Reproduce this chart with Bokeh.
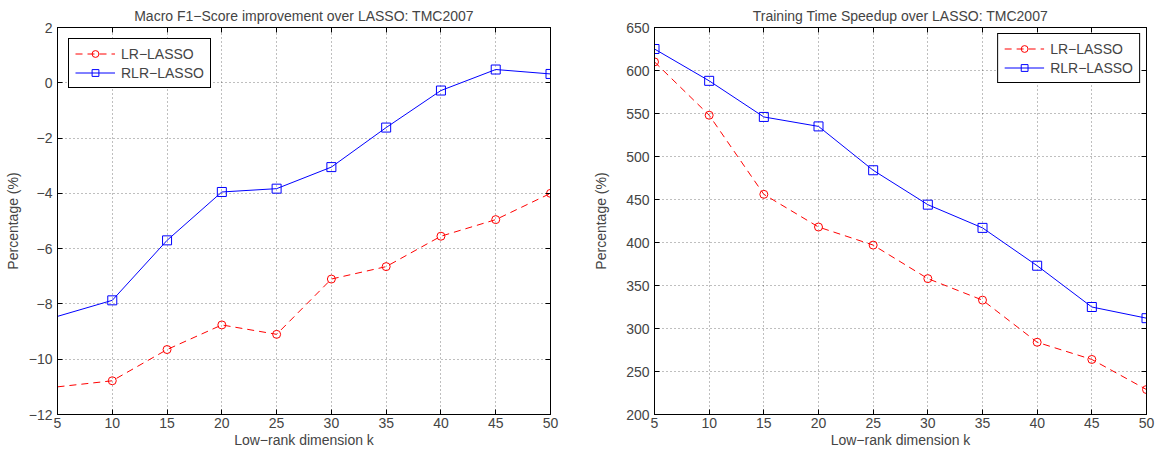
from bokeh.plotting import figure
from bokeh.layouts import row
from bokeh.models import Range1d, FixedTicker, LinearAxis, Legend, LegendItem
from bokeh.embed import file_html
from bokeh.resources import INLINE

k = [5, 10, 15, 20, 25, 30, 35, 40, 45, 50]
x_ticks = [5, 10, 15, 20, 25, 30, 35, 40, 45, 50]

f1_lr = [-11.0, -10.78, -9.65, -8.76, -9.1, -7.1, -6.65, -5.55, -4.95, -4.0]
f1_rlr = [-8.45, -7.87, -5.7, -3.95, -3.83, -3.05, -1.62, -0.28, 0.48, 0.32]
f1_ticks = [-12, -10, -8, -6, -4, -2, 0, 2]

sp_lr = [610, 548, 456, 418, 397, 358, 333, 284, 264, 229]
sp_rlr = [625, 588, 546, 535, 484, 444, 417, 373, 325, 312]
sp_ticks = [200, 250, 300, 350, 400, 450, 500, 550, 600, 650]

FONT = "Liberation Sans"
RED = "#ff0000"
BLUE = "#0000ff"


def make(title, lr, rlr, yr, yticks, width, bl, br, legend_loc, skip_first, lab_standoff):
    p = figure(width=width, height=450, output_backend="svg", toolbar_location=None,
               x_range=Range1d(5, 50), y_range=Range1d(*yr),
               min_border_left=bl, min_border_right=br, min_border_top=27, min_border_bottom=36)
    p.title.text = title
    p.title.text_font = FONT
    p.title.text_font_size = "14px"
    p.title.text_font_style = "normal"
    p.title.align = "center"
    p.title.standoff = 8
    p.outline_line_color = "black"
    p.outline_line_width = 1
    p.outline_line_alpha = 1

    for ax in (p.xaxis[0], p.yaxis[0]):
        ax.major_label_text_font = FONT
        ax.major_label_text_font_size = "14px"
        ax.axis_label_text_font = FONT
        ax.axis_label_text_font_size = "14px"
        ax.axis_label_text_font_style = "normal"
        ax.major_tick_in = 5
        ax.major_tick_out = 0
        ax.minor_tick_line_color = None
        ax.axis_line_color = "black"
        ax.major_tick_line_color = "black"
    p.xaxis[0].ticker = FixedTicker(ticks=x_ticks)
    p.yaxis[0].ticker = FixedTicker(ticks=yticks)
    p.xaxis[0].axis_label = "Low\u2212rank dimension k"
    p.yaxis[0].axis_label = "Percentage (%)"
    p.xaxis[0].major_label_standoff = 3
    p.yaxis[0].major_label_standoff = 5
    p.xaxis[0].axis_label_standoff = 1
    p.yaxis[0].axis_label_standoff = lab_standoff

    for loc in ("right", "above"):
        a = LinearAxis(ticker=FixedTicker(ticks=yticks if loc == "right" else x_ticks),
                       major_label_text_color=None, major_tick_in=5, major_tick_out=0,
                       minor_tick_line_color=None, axis_line_color="black",
                       major_label_standoff=0)
        p.add_layout(a, loc)

    p.grid.grid_line_color = "black"
    p.grid.grid_line_alpha = 0.5
    p.grid.grid_line_dash = "1 3"
    p.xgrid.ticker = FixedTicker(ticks=x_ticks)
    p.ygrid.ticker = FixedTicker(ticks=yticks)

    s = 1 if skip_first else 0
    l1 = p.line(k, lr, line_color=RED, line_width=1, line_dash="7 5")
    m1 = p.scatter(k[s:], lr[s:], marker="circle", size=8, fill_color=None, line_color=RED, line_width=1)
    l2 = p.line(k, rlr, line_color=BLUE, line_width=1)
    m2 = p.scatter(k[s:], rlr[s:], marker="square", size=9, fill_color=None, line_color=BLUE, line_width=1)

    legend = Legend(items=[LegendItem(label="LR\u2212LASSO", renderers=[l1, m1]),
                           LegendItem(label="RLR\u2212LASSO", renderers=[l2, m2])],
                    location=legend_loc)
    legend.label_text_font = FONT
    legend.label_text_font_size = "14px"
    legend.border_line_color = "black"
    legend.border_line_width = 1
    legend.border_line_alpha = 1
    legend.background_fill_alpha = 1
    legend.glyph_width = 40
    legend.glyph_height = 17
    legend.label_standoff = 6
    legend.spacing = 2
    legend.padding = 6
    legend.margin = 11
    p.add_layout(legend, "center")
    return p


p1 = make("Macro F1\u2212Score improvement over LASSO: TMC2007", f1_lr, f1_rlr, (-12, 2), f1_ticks,
          577, 57, 27, "top_left", True, 5)
p2 = make("Training Time Speedup over LASSO: TMC2007", sp_lr, sp_rlr, (200, 650), sp_ticks,
          578, 77, 9, "top_right", False, 14)
p2.legend[0].margin = 6

p = row(p1, p2)
open("out.html", "w").write(file_html(p, INLINE))
